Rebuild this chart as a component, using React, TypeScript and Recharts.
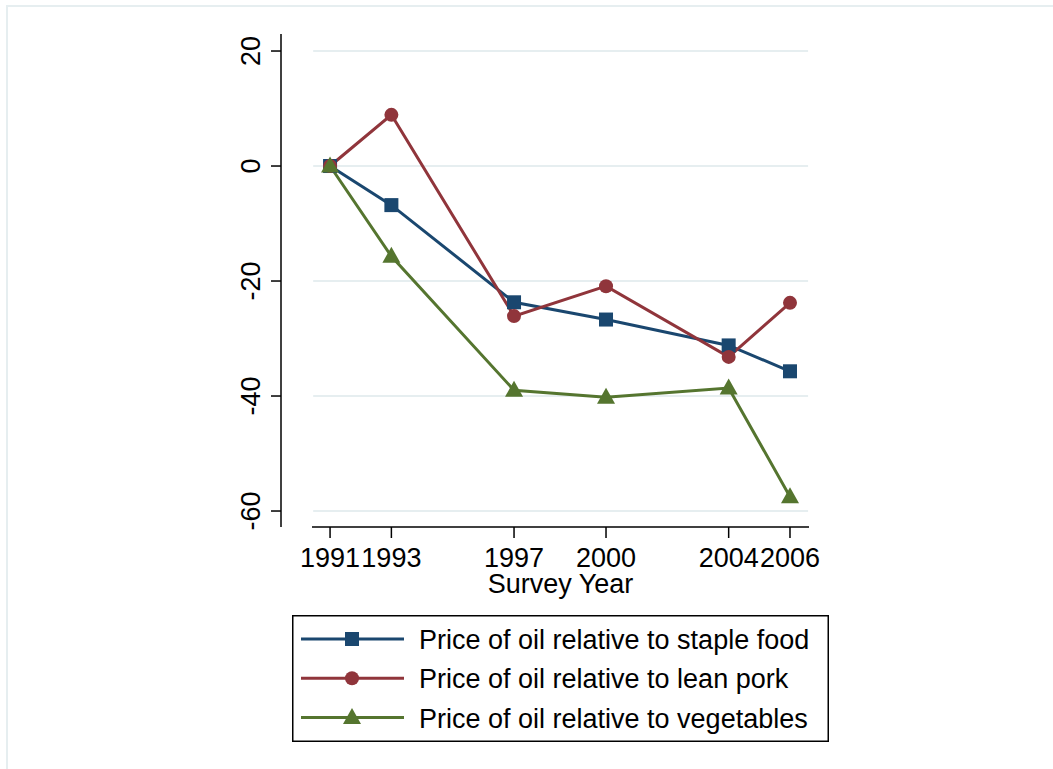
import React from 'react';
import { LineChart, Line, XAxis, YAxis, ReferenceLine, Legend } from 'recharts';

const years = [1991, 1993, 1997, 2000, 2004, 2006];
const stapleFood = [0, -6.8, -23.7, -26.7, -31.2, -35.7];
const leanPork = [0, 8.9, -26.1, -20.9, -33.2, -23.8];
const vegetables = [0, -15.7, -39.0, -40.2, -38.6, -57.5];
const yTicks = [-60, -40, -20, 0, 20];
const seriesNames = [
  'Price of oil relative to staple food',
  'Price of oil relative to lean pork',
  'Price of oil relative to vegetables',
];
const xLabel = 'Survey Year';

const NAVY = '#1a476f';
const MAROON = '#90353b';
const GREEN = '#55752f';
const GRID = '#e6eef0';
const FONT = '"Liberation Sans", Arial, Helvetica, sans-serif';
const FS = 27;

const data = years.map((y, i) => ({
  year: y,
  staple: stapleFood[i],
  pork: leanPork[i],
  veg: vegetables[i],
}));

const X_DOMAIN: [number, number] = [1989.4, 2006.62];
const Y_DOMAIN: [number, number] = [-62.78, 22.96];
const X_LINE_START = 1990.41;
const GRID_START = 1990.45;
const GRID_END = 2006.59;

const SquareDot = (props: any) => {
  const { cx, cy, key } = props;
  if (cx == null || cy == null) return null;
  return <rect key={key} x={cx - 7} y={cy - 7} width={14} height={14} fill={NAVY} />;
};
const CircleDot = (props: any) => {
  const { cx, cy, key } = props;
  if (cx == null || cy == null) return null;
  return <circle key={key} cx={cx} cy={cy} r={7} fill={MAROON} />;
};
const TriangleDot = (props: any) => {
  const { cx, cy, key } = props;
  if (cx == null || cy == null) return null;
  return (
    <polygon
      key={key}
      points={`${cx},${cy - 9.5} ${cx - 9},${cy + 6.5} ${cx + 9},${cy + 6.5}`}
      fill={GREEN}
    />
  );
};

const YTick = (props: any) => {
  const { x, y, payload } = props;
  return (
    <text
      x={x}
      y={y}
      transform={`rotate(-90, ${x}, ${y})`}
      textAnchor="middle"
      fontSize={FS}
      fontFamily={FONT}
      fill="#000"
    >
      {payload.value}
    </text>
  );
};

const XTick = (props: any) => {
  const { x, y, payload } = props;
  return (
    <text x={x} y={y + 27} textAnchor="middle" fontSize={FS} fontFamily={FONT} fill="#000">
      {payload.value}
    </text>
  );
};

const XLabel = () => (
  <text x={560.5} y={593} textAnchor="middle" fontSize={FS} fontFamily={FONT} fill="#000">
    {xLabel}
  </text>
);

const legendItems = [
  { name: seriesNames[0], color: NAVY, shape: 'square' },
  { name: seriesNames[1], color: MAROON, shape: 'circle' },
  { name: seriesNames[2], color: GREEN, shape: 'triangle' },
];

const renderLegend = () => (
  <svg width={537} height={127} style={{ display: 'block' }}>
    <rect x={0.75} y={0.75} width={535.5} height={125.5} fill="#fff" stroke="#000" strokeWidth={1.5} />
    {legendItems.map((it, i) => {
      const cy = 24 + i * 39.3;
      const cx = 60;
      return (
        <g key={it.name}>
          <line x1={9} x2={112} y1={cy} y2={cy} stroke={it.color} strokeWidth={3} />
          {it.shape === 'square' && <rect x={cx - 7} y={cy - 7} width={14} height={14} fill={it.color} />}
          {it.shape === 'circle' && <circle cx={cx} cy={cy} r={7} fill={it.color} />}
          {it.shape === 'triangle' && (
            <polygon points={`${cx},${cy - 9.5} ${cx - 9},${cy + 6.5} ${cx + 9},${cy + 6.5}`} fill={it.color} />
          )}
          <text x={127} y={cy + 10} fontSize={FS} fontFamily={FONT} fill="#000">
            {it.name}
          </text>
        </g>
      );
    })}
  </svg>
);

export default function App() {
  return (
    <div style={{ position: 'absolute', left: 0, top: 0, width: 1053, height: 769, background: '#fff', overflow: 'hidden' }}>
      <div
        style={{
          position: 'absolute',
          left: 6,
          top: 5,
          width: 1100,
          height: 800,
          borderLeft: `2px solid ${GRID}`,
          borderTop: `2px solid ${GRID}`,
        }}
      />
      <div style={{ position: 'absolute', left: 0, top: 0 }}>
        <LineChart width={1053} height={769} data={data} margin={{ top: 34, right: 244, left: 0, bottom: 0 }}>
          {yTicks.map((t) => (
            <ReferenceLine
              key={`g${t}`}
              segment={[
                { x: GRID_START, y: t },
                { x: GRID_END, y: t },
              ]}
              stroke={GRID}
              strokeWidth={2}
              ifOverflow="visible"
            />
          ))}
          <ReferenceLine
            segment={[
              { x: X_LINE_START, y: Y_DOMAIN[0] },
              { x: X_DOMAIN[1], y: Y_DOMAIN[0] },
            ]}
            stroke="#000"
            strokeWidth={1.5}
            ifOverflow="visible"
          />
          <XAxis
            dataKey="year"
            type="number"
            domain={X_DOMAIN}
            allowDataOverflow
            ticks={years}
            interval={0}
            height={242}
            axisLine={false}
            tickLine={{ stroke: '#000', strokeWidth: 1.5 }}
            tickSize={11}
            tickMargin={2}
            tick={<XTick />}
            label={<XLabel />}
          />
          <YAxis
            type="number"
            domain={Y_DOMAIN}
            allowDataOverflow
            ticks={yTicks}
            interval={0}
            width={281}
            axisLine={{ stroke: '#000', strokeWidth: 1.5 }}
            tickLine={{ stroke: '#000', strokeWidth: 1.5 }}
            tickSize={10}
            tickMargin={11}
            tick={<YTick />}
          />
          <Legend
            layout="vertical"
            align="center"
            verticalAlign="middle"
            content={renderLegend}
            wrapperStyle={{ position: 'absolute', left: 292, top: 615, width: 537, height: 127 }}
          />
          <Line
            type="linear"
            dataKey="staple"
            name={seriesNames[0]}
            stroke={NAVY}
            strokeWidth={3}
            dot={SquareDot}
            activeDot={false}
            isAnimationActive={false}
          />
          <Line
            type="linear"
            dataKey="pork"
            name={seriesNames[1]}
            stroke={MAROON}
            strokeWidth={3}
            dot={CircleDot}
            activeDot={false}
            isAnimationActive={false}
          />
          <Line
            type="linear"
            dataKey="veg"
            name={seriesNames[2]}
            stroke={GREEN}
            strokeWidth={3}
            dot={TriangleDot}
            activeDot={false}
            isAnimationActive={false}
          />
        </LineChart>
      </div>
    </div>
  );
}
